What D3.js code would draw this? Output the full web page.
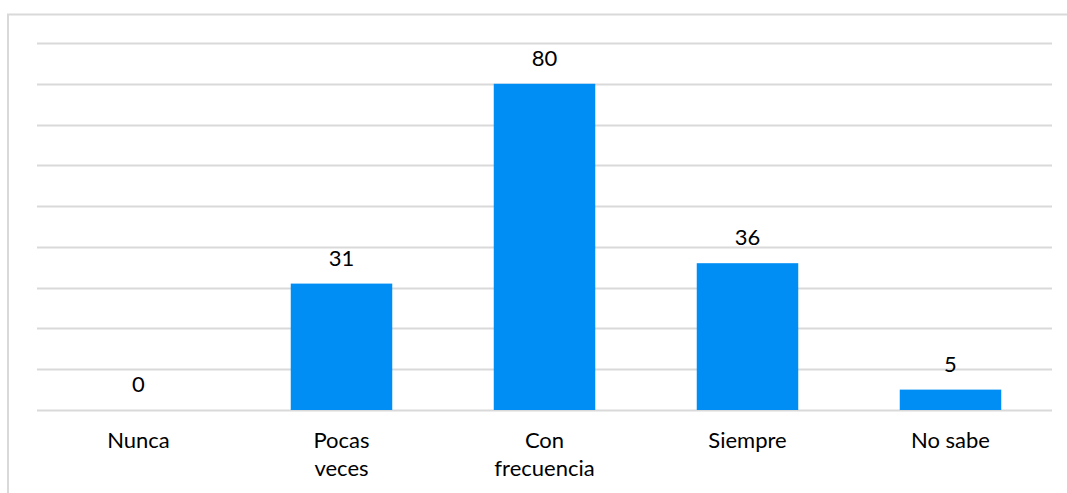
<!DOCTYPE html>
<html>
<head>
<meta charset="utf-8">
<script src="https://cdn.jsdelivr.net/npm/d3@7"></script>
<style>
  body { margin: 0; background: #fff; }
  svg text { font-family: Lato, "Open Sans", sans-serif; fill: #000; }
</style>
</head>
<body>
<div id="main"></div>
<script>
const categories = [["Nunca"], ["Pocas", "veces"], ["Con", "frecuencia"], ["Siempre"], ["No sabe"]];
const values = [0, 31, 80, 36, 5];
const yTicks = [0, 10, 20, 30, 40, 50, 60, 70, 80, 90];

const ctx = {
    w: 1067,
    h: 493,
    left: 37,
    right: 1052,
    top: 43,
    bottom: 410,
    FONT_SIZE: "22px",
    BAR_COLOR: "#008ef5",
    GRID_COLOR: "#d9d9d9",
};

function createViz(){
    let svg = d3.select("#main").append("svg")
        .attr("width", ctx.w)
        .attr("height", ctx.h);

    // chart frame (right and bottom edges fall outside the picture)
    svg.append("rect")
        .attr("x", 8).attr("y", 14.5)
        .attr("width", 1080).attr("height", 500)
        .attr("fill", "none")
        .attr("stroke", ctx.GRID_COLOR)
        .attr("stroke-width", 2);

    const x = d3.scaleBand()
        .domain(d3.range(categories.length))
        .range([ctx.left, ctx.right])
        .paddingInner(0.5)
        .paddingOuter(0.25);

    const y = d3.scaleLinear()
        .domain([0, 90])
        .range([ctx.bottom, ctx.top]);

    let grid = svg.append("g").attr("id", "grid");
    grid.selectAll("line")
        .data(yTicks)
        .enter()
        .append("line")
        .attr("x1", ctx.left)
        .attr("x2", ctx.right)
        .attr("y1", d => Math.round(y(d)) + 0.5)
        .attr("y2", d => Math.round(y(d)) + 0.5)
        .attr("stroke", ctx.GRID_COLOR)
        .attr("stroke-width", 2);

    let bars = svg.append("g").attr("id", "bars");
    bars.selectAll("rect")
        .data(values)
        .enter()
        .append("rect")
        .attr("x", (d, i) => x(i))
        .attr("width", x.bandwidth())
        .attr("y", d => y(d))
        .attr("height", d => y(0) - y(d))
        .attr("fill", ctx.BAR_COLOR);

    let labels = svg.append("g").attr("id", "labels");
    labels.selectAll("text")
        .data(values)
        .enter()
        .append("text")
        .attr("x", (d, i) => x(i) + x.bandwidth() / 2)
        .attr("y", d => y(d) - 18)
        .attr("text-anchor", "middle")
        .attr("font-size", ctx.FONT_SIZE)
        .text(d => d);

    let cats = svg.append("g").attr("id", "categories");
    cats.selectAll("text")
        .data(categories)
        .enter()
        .append("text")
        .attr("x", (d, i) => x(i) + x.bandwidth() / 2)
        .attr("y", 448)
        .attr("text-anchor", "middle")
        .attr("font-size", ctx.FONT_SIZE)
        .each(function(d){
            let t = d3.select(this);
            d.forEach((line, j) => {
                t.append("tspan")
                    .attr("x", t.attr("x"))
                    .attr("dy", j === 0 ? 0 : 28)
                    .text(line);
            });
        });
}

createViz();
</script>
</body>
</html>
